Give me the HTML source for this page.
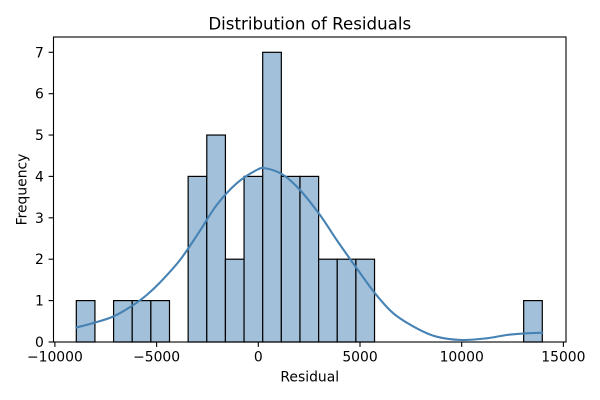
<!DOCTYPE html>
<html><head><meta charset="utf-8"><style>
html,body{margin:0;padding:0;background:#fff;}
svg{display:block;}
text{font-family:"DejaVu Sans","Liberation Sans",sans-serif;fill:#000;}
</style></head><body>
<svg width="600" height="400" viewBox="0 0 600 400" xmlns="http://www.w3.org/2000/svg">
<rect x="0" y="0" width="600" height="400" fill="#fff"/>
<g fill="#a2c0d9" stroke="#000" stroke-width="1.2">
<rect x="76.3" y="300.6" width="18.64" height="41.4"/>
<rect x="113.58" y="300.6" width="18.64" height="41.4"/>
<rect x="132.22" y="300.6" width="18.64" height="41.4"/>
<rect x="150.86" y="300.6" width="18.64" height="41.4"/>
<rect x="188.14" y="176.4" width="18.64" height="165.6"/>
<rect x="206.78" y="135.05" width="18.64" height="206.95"/>
<rect x="225.42" y="259.2" width="18.64" height="82.8"/>
<rect x="244.06" y="176.4" width="18.64" height="165.6"/>
<rect x="262.7" y="52.3" width="18.64" height="289.7"/>
<rect x="281.34" y="176.4" width="18.64" height="165.6"/>
<rect x="299.98" y="176.4" width="18.64" height="165.6"/>
<rect x="318.62" y="259.2" width="18.64" height="82.8"/>
<rect x="337.26" y="259.2" width="18.64" height="82.8"/>
<rect x="355.9" y="259.2" width="18.64" height="82.8"/>
<rect x="523.66" y="300.6" width="18.64" height="41.4"/>
</g>
<path d="M76.3,327.5 C79.13,326.75 87.13,324.83 93.3,323 C99.47,321.17 106.63,319.5 113.3,316.5 C119.97,313.5 127.73,308.58 133.3,305 C138.87,301.42 142.25,298.75 146.7,295 C151.15,291.25 154.45,288.33 160,282.5 C165.55,276.67 173.62,268.2 180,260 C186.38,251.8 192.18,242.47 198.3,233.3 C204.42,224.13 210.3,213.33 216.7,205 C223.1,196.67 230.03,189.13 236.7,183.3 C243.37,177.47 251.82,172.48 256.7,170 C261.58,167.52 261.57,167.57 266,168.4 C270.43,169.23 277.63,171.4 283.3,175 C288.97,178.6 293.88,183.33 300,190 C306.12,196.67 313.88,206.67 320,215 C326.12,223.33 330.58,231.12 336.7,240 C342.82,248.88 350.32,259.42 356.7,268.3 C363.08,277.18 368.9,285.8 375,293.3 C381.1,300.8 386.35,307.47 393.3,313.3 C400.25,319.13 409.47,324.4 416.7,328.3 C423.93,332.2 429.2,334.75 436.7,336.7 C444.2,338.65 453.37,339.73 461.7,340 C470.03,340.27 479.2,339.13 486.7,338.3 C494.2,337.47 500.03,335.83 506.7,335 C513.37,334.17 520.77,333.68 526.7,333.3 C532.63,332.92 539.7,332.8 542.3,332.7" fill="none" stroke="#4682b4" stroke-width="2.1" stroke-linecap="round"/>
<rect x="53.5" y="37" width="512.5" height="305" fill="none" stroke="#000" stroke-width="1.1"/>
<g stroke="#000" stroke-width="1.1">
<line x1="54.9" y1="342" x2="54.9" y2="346.9"/>
<line x1="156.6" y1="342" x2="156.6" y2="346.9"/>
<line x1="258.3" y1="342" x2="258.3" y2="346.9"/>
<line x1="360" y1="342" x2="360" y2="346.9"/>
<line x1="461.7" y1="342" x2="461.7" y2="346.9"/>
<line x1="563.4" y1="342" x2="563.4" y2="346.9"/>
<line x1="48.6" y1="342" x2="53.5" y2="342"/>
<line x1="48.6" y1="300.6" x2="53.5" y2="300.6"/>
<line x1="48.6" y1="259.2" x2="53.5" y2="259.2"/>
<line x1="48.6" y1="217.8" x2="53.5" y2="217.8"/>
<line x1="48.6" y1="176.4" x2="53.5" y2="176.4"/>
<line x1="48.6" y1="135.05" x2="53.5" y2="135.05"/>
<line x1="48.6" y1="93.7" x2="53.5" y2="93.7"/>
<line x1="48.6" y1="52.3" x2="53.5" y2="52.3"/>
</g>
<g font-size="13.9" text-anchor="middle">
<text x="54.9" y="361.5">−10000</text>
<text x="156.6" y="361.5">−5000</text>
<text x="258.3" y="361.5">0</text>
<text x="360" y="361.5">5000</text>
<text x="461.7" y="361.5">10000</text>
<text x="563.4" y="361.5">15000</text>
</g>
<g font-size="13.9" text-anchor="end">
<text x="43.8" y="347">0</text>
<text x="43.8" y="305.6">1</text>
<text x="43.8" y="264.2">2</text>
<text x="43.8" y="222.8">3</text>
<text x="43.8" y="181.4">4</text>
<text x="43.8" y="140.05">5</text>
<text x="43.8" y="98.7">6</text>
<text x="43.8" y="57.3">7</text>
</g>
<text x="309.75" y="381.5" font-size="13.9" text-anchor="middle">Residual</text>
<text transform="translate(26.5,189.5) rotate(-90)" font-size="13.9" text-anchor="middle">Frequency</text>
<text x="309.75" y="29.5" font-size="16.67" text-anchor="middle">Distribution of Residuals</text>
</svg>
</body></html>
